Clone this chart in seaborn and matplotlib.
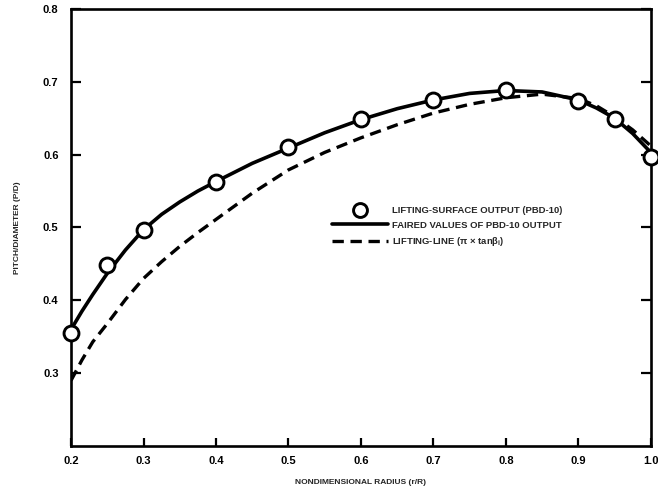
import matplotlib
matplotlib.use("Agg")
import matplotlib.pyplot as plt
from matplotlib.lines import Line2D
import seaborn as sns
import pandas as pd

# Lifting-surface program output (circles)
r_surface = [0.2, 0.25, 0.3, 0.4, 0.5, 0.6, 0.7, 0.8, 0.9, 0.95, 1.0]
pd_surface = [0.355, 0.448, 0.497, 0.562, 0.610, 0.649, 0.675, 0.689, 0.674, 0.649, 0.597]

# Faired values of the lifting-surface output (solid line)
r_faired = [0.2, 0.215, 0.23, 0.25, 0.275, 0.3, 0.325, 0.35, 0.375, 0.4, 0.45, 0.5, 0.55, 0.6,
            0.65, 0.7, 0.75, 0.8, 0.85, 0.9, 0.925, 0.95, 0.975, 1.0]
pd_faired = [0.360, 0.385, 0.408, 0.437, 0.469, 0.497, 0.518, 0.535, 0.550, 0.563, 0.588,
             0.609, 0.630, 0.648, 0.663, 0.675, 0.684, 0.688, 0.686, 0.675, 0.664, 0.650,
             0.629, 0.603]

# Lifting-line pitch (dashed line)
r_line = [0.2, 0.215, 0.23, 0.25, 0.275, 0.3, 0.325, 0.35, 0.375, 0.4, 0.45, 0.5, 0.55, 0.6,
          0.65, 0.7, 0.75, 0.8, 0.85, 0.9, 0.925, 0.95, 0.975, 1.0]
pd_line = [0.290, 0.318, 0.343, 0.368, 0.401, 0.430, 0.453, 0.474, 0.493, 0.511, 0.547,
           0.579, 0.603, 0.623, 0.641, 0.657, 0.669, 0.678, 0.683, 0.677, 0.667, 0.652,
           0.634, 0.612]

x_ticks = [0.2, 0.3, 0.4, 0.5, 0.6, 0.7, 0.8, 0.9, 1.0]
y_ticks = [0.3, 0.4, 0.5, 0.6, 0.7, 0.8]

label_surface = "LIFTING-SURFACE OUTPUT (PBD-10)"
label_faired = "FAIRED VALUES OF PBD-10 OUTPUT"
label_line = "LIFTING-LINE (π × tan$\\mathbf{\\beta_i}$)"

sns.set_theme(style="white")
plt.rcParams["font.family"] = ["Liberation Sans", "DejaVu Sans"]
plt.rcParams["mathtext.fontset"] = "custom"
plt.rcParams["mathtext.bf"] = "Liberation Sans:bold"

fig = plt.figure(figsize=(6.58, 4.95), dpi=100)
ax = fig.add_axes([0.108, 0.099, 0.881, 0.883])

df_faired = pd.DataFrame({"r": r_faired, "pd": pd_faired})
df_line = pd.DataFrame({"r": r_line, "pd": pd_line})
df_surface = pd.DataFrame({"r": r_surface, "pd": pd_surface})

sns.lineplot(data=df_line, x="r", y="pd", ax=ax, color="black", lw=2.4,
             linestyle=(0, (3.4, 2.0)), sort=False, zorder=2)
sns.lineplot(data=df_faired, x="r", y="pd", ax=ax, color="black", lw=2.6,
             sort=False, zorder=3)
sns.scatterplot(data=df_surface, x="r", y="pd", ax=ax, s=115, marker="o",
                facecolor="white", edgecolor="black", linewidth=2.1,
                zorder=4, clip_on=False)

ax.set_xlim(0.2, 1.0)
ax.set_ylim(0.2, 0.8)
ax.set_xticks(x_ticks)
ax.set_yticks(y_ticks)
ax.set_xticklabels([f"{v:.1f}" for v in x_ticks], fontsize=8, fontweight="bold")
ax.set_yticklabels([f"{v:.1f}" for v in y_ticks], fontsize=8, fontweight="bold")

for side in ["left", "right", "top", "bottom"]:
    ax.spines[side].set_visible(True)
    ax.spines[side].set_color("black")
    ax.spines[side].set_linewidth(1.9)

ax.tick_params(axis="x", direction="in", length=6, width=1.6, pad=7,
               bottom=True, top=False, colors="black")
ax.tick_params(axis="y", direction="in", length=7, width=1.6, pad=9,
               left=True, right=True, colors="black")

ax.set_xlabel("NONDIMENSIONAL RADIUS (r/R)", fontsize=6.0, fontweight="bold")
ax.set_ylabel("PITCH/DIAMETER (P/D)", fontsize=6.0, fontweight="bold")
ax.xaxis.set_label_coords(0.5, -0.075)
ax.yaxis.set_label_coords(-0.087, 0.5)

handles = [
    Line2D([], [], linestyle="none", marker="o", markersize=10,
           markerfacecolor="white", markeredgecolor="black", markeredgewidth=2.1),
    Line2D([], [], color="black", lw=2.6),
    Line2D([], [], color="black", lw=2.4, linestyle=(0, (3.4, 2.0))),
]
leg = ax.legend(handles, [label_surface, label_faired, label_line],
                loc="upper left", bbox_to_anchor=(0.443, 0.558), frameon=False,
                handlelength=6.0, handletextpad=0.4, labelspacing=0.6,
                borderaxespad=0.0,
                prop={"size": 6.8, "weight": "bold"})

fig.savefig("out.png", dpi=100, facecolor="white")
